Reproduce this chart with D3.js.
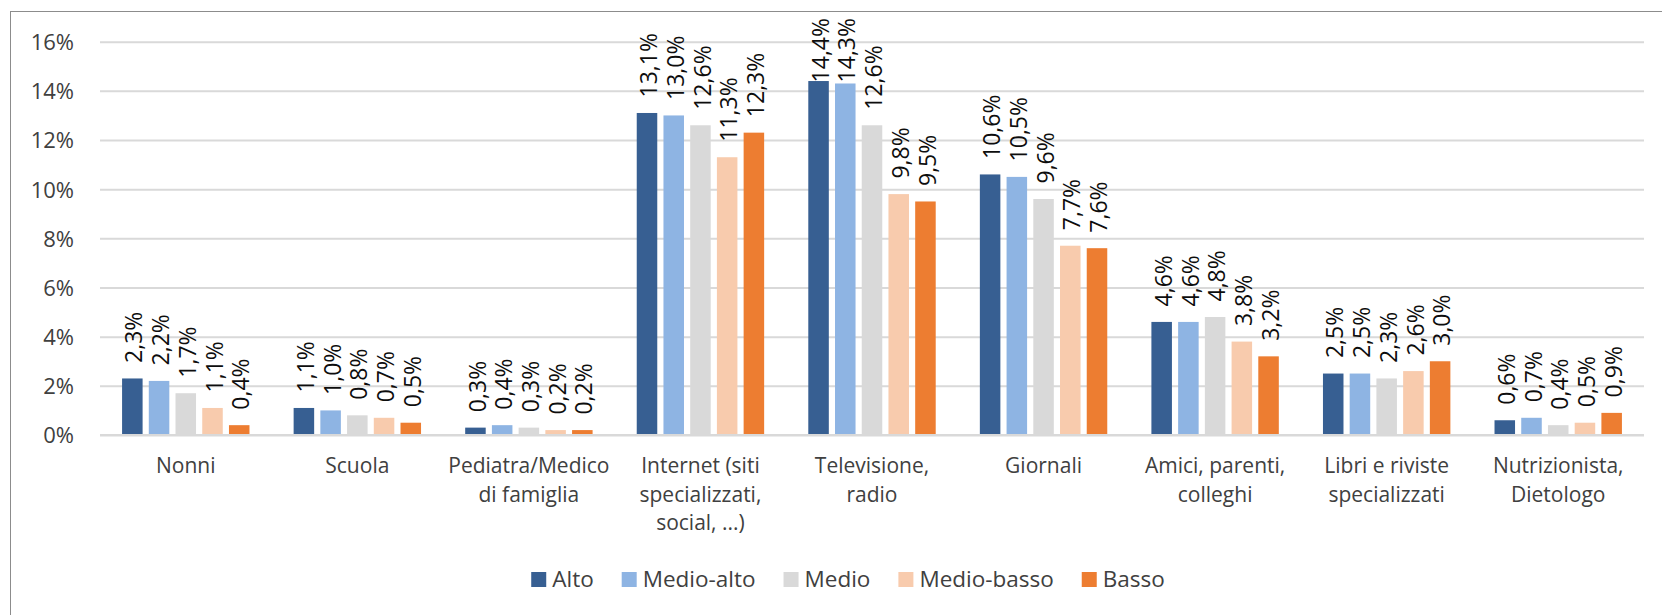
<!DOCTYPE html>
<html>
<head>
<meta charset="utf-8">
<script src="https://cdn.jsdelivr.net/npm/d3@7/dist/d3.min.js"></script>
<style>
  html, body { margin: 0; padding: 0; background: #fff; }
  svg { display: block; }
</style>
</head>
<body>
<svg id="chart" width="1662" height="615"></svg>
<script>
const categories = [
  "Nonni",
  "Scuola",
  "Pediatra/Medico\ndi famiglia",
  "Internet (siti\nspecializzati,\nsocial, ...)",
  "Televisione,\nradio",
  "Giornali",
  "Amici, parenti,\ncolleghi",
  "Libri e riviste\nspecializzati",
  "Nutrizionista,\nDietologo"
];
const seriesNames = ["Alto", "Medio-alto", "Medio", "Medio-basso", "Basso"];
const alto       = [2.3, 1.1, 0.3, 13.1, 14.4, 10.6, 4.6, 2.5, 0.6];
const medioAlto  = [2.2, 1.0, 0.4, 13.0, 14.3, 10.5, 4.6, 2.5, 0.7];
const medio      = [1.7, 0.8, 0.3, 12.6, 12.6, 9.6, 4.8, 2.3, 0.4];
const medioBasso = [1.1, 0.7, 0.2, 11.3, 9.8, 7.7, 3.8, 2.6, 0.5];
const basso      = [0.4, 0.5, 0.2, 12.3, 9.5, 7.6, 3.2, 3.0, 0.9];
const yTicks = [0, 2, 4, 6, 8, 10, 12, 14, 16];
const colors = ["#375f92", "#8eb4e3", "#d9d9d9", "#f8cbad", "#ed7d31"];

const seriesValues = [alto, medioAlto, medio, medioBasso, basso];
const FONT = "'Open Sans', sans-serif";
const svg = d3.select("#chart");

// frame
svg.append("rect")
  .attr("x", 10.5).attr("y", 11.5)
  .attr("width", 1800).attr("height", 800)
  .attr("fill", "none").attr("stroke", "#8c8c8c").attr("stroke-width", 1);

const plot = { left: 100, right: 1644, top: 41.7, bottom: 435 };

const y = d3.scaleLinear().domain([0, 16]).range([plot.bottom, plot.top]);
const x0 = d3.scaleBand().domain(d3.range(categories.length)).range([plot.left, plot.right]).padding(0);
const x1 = d3.scaleBand().domain(d3.range(seriesNames.length)).range([0, x0.bandwidth()])
  .paddingInner(0.232).paddingOuter(0.826);

// gridlines
const yAxis = d3.axisLeft(y).tickValues(yTicks)
  .tickSize(-(plot.right - plot.left))
  .tickPadding(26)
  .tickFormat(d => d + "%");
const gy = svg.append("g").attr("transform", `translate(${plot.left},0)`).call(yAxis);
gy.select(".domain").remove();
gy.selectAll(".tick line").attr("stroke", "#d9d9d9").attr("stroke-width", 2);
gy.selectAll(".tick text")
  .attr("font-family", FONT).attr("font-size", 22).attr("fill", "#404040")
  .attr("dy", "0.36em");

// bars
const groups = svg.append("g").selectAll("g")
  .data(categories.map((c, i) => i))
  .join("g")
  .attr("transform", i => `translate(${x0(i)},0)`);

groups.selectAll("rect")
  .data(i => seriesValues.map((vals, s) => ({ s, v: vals[i] })))
  .join("rect")
  .attr("x", d => x1(d.s))
  .attr("width", x1.bandwidth())
  .attr("y", d => y(d.v))
  .attr("height", d => y(0) - y(d.v))
  .attr("fill", d => colors[d.s]);

// x axis baseline
svg.append("line")
  .attr("x1", plot.left).attr("x2", plot.right)
  .attr("y1", y(0)).attr("y2", y(0))
  .attr("stroke", "#d9d9d9").attr("stroke-width", 2);

// data labels
groups.each(function(i) {
  const g = d3.select(this);
  seriesValues.forEach((vals, s) => {
    const v = vals[i];
    const cx = x1(s) + x1.bandwidth() / 2;
    const t = g.append("text")
      .attr("font-family", FONT).attr("font-size", 23).attr("fill", "#0d0d0d")
      .attr("dy", "0.44em")
      .text(v.toFixed(1).replace(".", ",") + "%");
    const len = t.node().getComputedTextLength();
    let start = y(v) - 15.5;
    if (start - len < 18) start = 18 + len;
    t.attr("transform", `translate(${cx},${start}) rotate(-90)`);
  });
});

// category labels
const xg = svg.append("g");
categories.forEach((c, i) => {
  const t = xg.append("text")
    .attr("font-family", FONT).attr("font-size", 21).attr("fill", "#404040")
    .attr("text-anchor", "middle")
    .attr("x", x0(i) + x0.bandwidth() / 2)
    .attr("y", 473);
  c.split("\n").forEach((line, k) => {
    t.append("tspan")
      .attr("x", x0(i) + x0.bandwidth() / 2)
      .attr("y", 473 + k * 28.5)
      .text(line);
  });
});

// legend
const legend = svg.append("g");
let lx = 0;
seriesNames.forEach((name, s) => {
  const it = legend.append("g").attr("transform", `translate(${lx},0)`);
  it.append("rect").attr("x", 0).attr("y", 572).attr("width", 15).attr("height", 15).attr("fill", colors[s]);
  const t = it.append("text")
    .attr("font-family", FONT).attr("font-size", 22.5).attr("fill", "#404040")
    .attr("x", 21).attr("y", 587).text(name);
  const w = t.node().getComputedTextLength();
  lx += 21 + w + 28;
});
const totalW = lx - 28;
legend.attr("transform", `translate(${848 - totalW / 2},0)`);
</script>
</body>
</html>
